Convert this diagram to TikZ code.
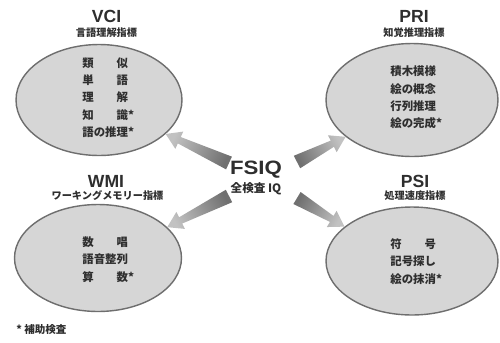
\documentclass[tikz,border=0pt]{standalone}
\usepackage{fontspec}
\usepackage{graphicx}
\setmainfont{Liberation Sans}
\newfontfamily\jp{Noto Sans CJK JP}
\usetikzlibrary{shapes.geometric,calc}

\definecolor{inkgray}{HTML}{2E2E2E}
\definecolor{ovalfill}{HTML}{D6D6D6}
\definecolor{ovaledge}{HTML}{6E6E6E}
\definecolor{arrowdark}{HTML}{707070}
\definecolor{arrowlight}{HTML}{C2C2C2}

\tikzset{
  oval/.style={ellipse, draw=ovaledge, line width=0.8pt, fill=ovalfill, inner sep=0pt},
  title/.style={font=\bfseries\fontsize{10}{12}\selectfont, text=inkgray, inner sep=0pt},
  subtitle/.style={font=\jp\bfseries\fontsize{5.8}{7}\selectfont, text=inkgray, inner sep=0pt},
  items/.style={font=\jp\bfseries\fontsize{6.5}{9.8}\selectfont, text=inkgray, align=left, inner sep=0pt, anchor=west},
  arrowbody/.style={top color=arrowlight, bottom color=arrowdark},
}

% Wide tapered arrow from a tail coordinate to a tip coordinate
\newcommand\fatarrow[3]{%
  \coordinate (#1neck) at ($(#2)!0.3cm!(#1)$);
  \path[arrowbody, shading angle=#3]
    ($(#1)!0.14cm!90:(#2)$) -- ($(#1neck)!0.07cm!90:(#2)$)
    -- ($(#1neck)!0.19cm!90:(#2)$) -- (#2)
    -- ($(#1neck)!0.19cm!-90:(#2)$) -- ($(#1neck)!0.07cm!-90:(#2)$)
    -- ($(#1)!0.14cm!-90:(#2)$) -- cycle;
}

\begin{document}
\begin{tikzpicture}[x=0.02cm, y=-0.02cm]
  \useasboundingbox (0,0) rectangle (500,342);

  % index ovals
  \node[oval, minimum width=3.32cm, minimum height=2.22cm] (vci) at (99,100) {};
  \node[oval, minimum width=3.44cm, minimum height=2.26cm] (pri) at (412,100) {};
  \node[oval, minimum width=3.34cm, minimum height=2.14cm] (wmi) at (98,258) {};
  \node[oval, minimum width=3.44cm, minimum height=2.16cm] (psi) at (412,261) {};

  % titles
  \node[title] (vcit) at (106.5,16.5) {VCI};
  \node[subtitle] (vcis) at (106.5,33) {言語理解指標};
  \node[title] (prit) at (414,16.5) {PRI};
  \node[subtitle] (pris) at (414,33) {知覚推理指標};
  \node[title] (wmit) at (106,181) {WMI};
  \node[subtitle] (wmis) at (107.5,196) {ワーキングメモリー指標};
  \node[title] (psit) at (415,181) {PSI};
  \node[subtitle] (psis) at (415,196) {処理速度指標};

  % subtests
  \node[items] (vcii) at (82,97.5) {類　　似\\単　　語\\理　　解\\知　　識*\\語の推理*};
  \node[items] (prii) at (390,97.5) {積木模様\\絵の概念\\行列推理\\絵の完成*};
  \node[items] (wmii) at (82,259.5) {数　　唱\\語音整列\\算　　数*};
  \node[items] (psii) at (390,261.5) {符　　号\\記号探し\\絵の抹消*};

  % centre label
  \node[font=\bfseries\fontsize{11}{13}\selectfont, text=inkgray, inner sep=0pt] (fsiq) at (256,169.5) {\scalebox{1.15}[1]{FSIQ}};
  \node[font=\jp\bfseries\fontsize{6.6}{8}\selectfont, text=inkgray, inner sep=0pt] (fsiqs) at (256,189) {全検査 IQ};

  % arrows from FSIQ to each index
  \coordinate (vt) at (229,163);
  \coordinate (pt) at (297,162);
  \coordinate (wt) at (229,196);
  \coordinate (st) at (297,198);
  \coordinate (vh) at (vci.-27);
  \coordinate (ph) at (pri.-151);
  \coordinate (wh) at (wmi.24);
  \coordinate (sh) at (psi.153);
  \fatarrow{vt}{vh}{64}
  \fatarrow{pt}{ph}{-62.5}
  \fatarrow{wt}{wh}{117.5}
  \fatarrow{st}{sh}{-120}

  % footnote
  \node[font=\jp\bfseries\fontsize{6}{7}\selectfont, text=inkgray, inner sep=0pt, anchor=west] (note) at (16,330) {*\ 補助検査};
\end{tikzpicture}
\end{document}
